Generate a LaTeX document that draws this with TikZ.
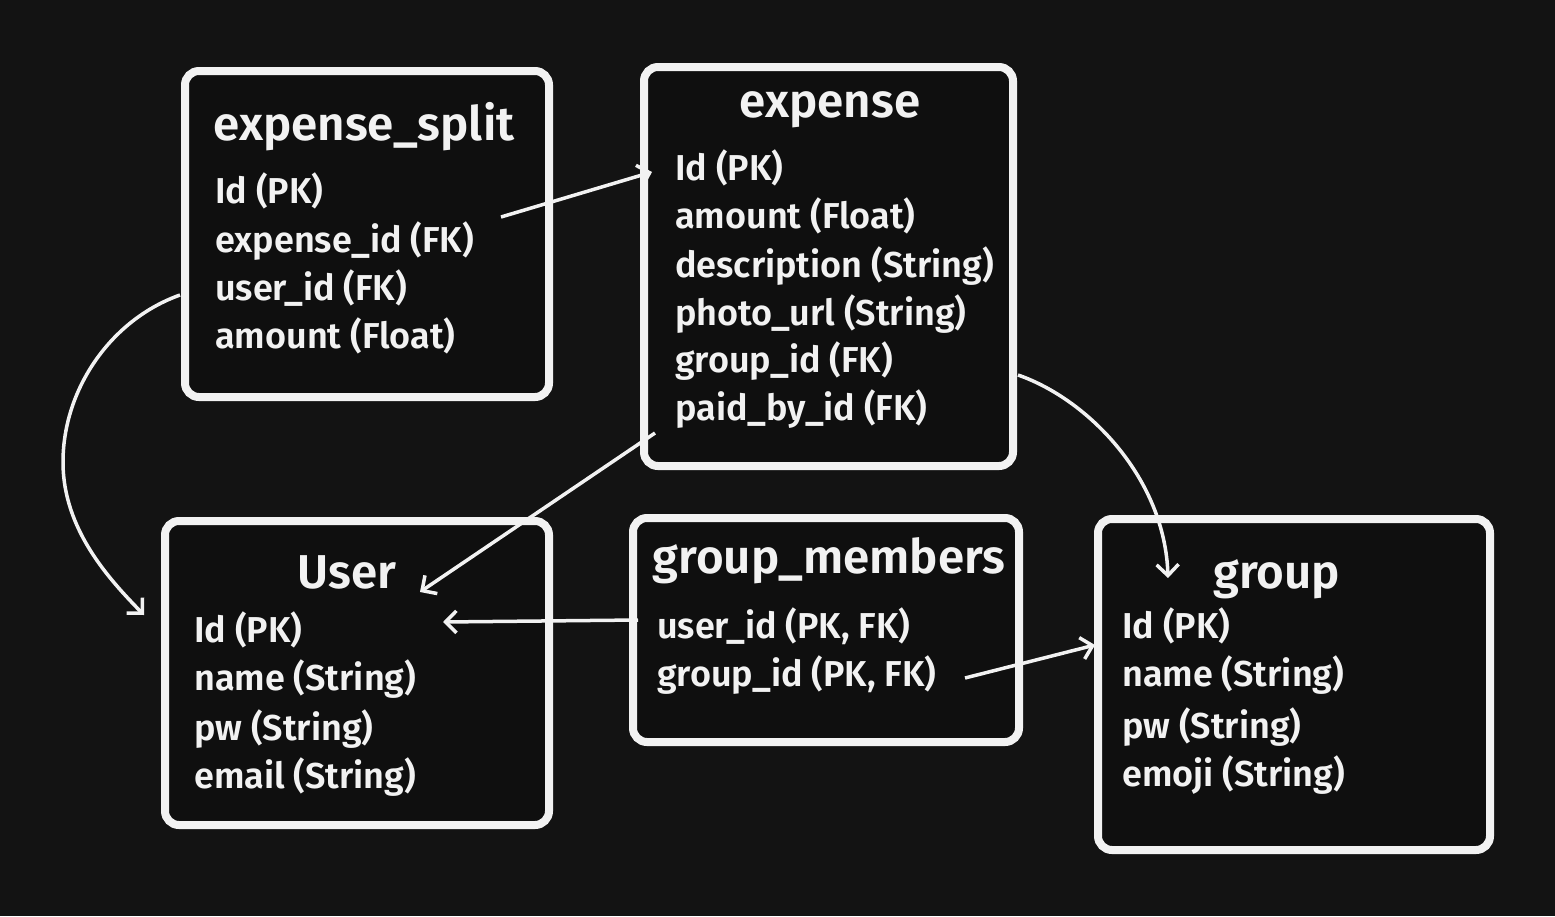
\documentclass[tikz,border=0pt]{standalone}
\usepackage{fontspec}
\setmainfont{Fira Sans SemiBold}
\usetikzlibrary{arrows.meta}
\definecolor{bg}{HTML}{131313}
\definecolor{inbg}{HTML}{0F0F0F}
\definecolor{fg}{HTML}{F2F2F2}
\begin{document}
\begin{tikzpicture}[x=1pt,y=-1pt,
  box/.style={draw=fg, line width=8pt, rounded corners=14pt, fill=inbg, inner sep=0pt, outer sep=0pt},
  ttl/.style={text=fg, font=\fontsize{47.5}{47.5}\selectfont, anchor=base, inner sep=0pt},
  fld/.style={text=fg, font=\fontsize{36}{36}\selectfont, anchor=base west, inner sep=0pt},
  link/.style={draw=fg, line width=3.5pt, -{Straight Barb[length=11pt,width=22pt]}}]
\fill[bg] (0,0) rectangle (1555,916);
\useasboundingbox (0,0) rectangle (1555,916);

% boxes
\node[box, minimum width=364pt, minimum height=326pt] (es) at (367,234) {};
\node[box, minimum width=369pt, minimum height=399pt] (ex) at (828.5,266.5) {};
\node[box, minimum width=384pt, minimum height=304pt] (us) at (357,673) {};
\node[box, minimum width=386pt, minimum height=224pt] (gm) at (826,630) {};
\node[box, minimum width=392pt, minimum height=331pt] (gr) at (1294,684.5) {};

% expense_split
\node[ttl] (esT) at (364,140) {expense\_split};
\node[fld] (es1) at (215,203) {Id (PK)};
\node[fld] (es2) at (215,252) {expense\_id (FK)};
\node[fld] (es3) at (215,300) {user\_id (FK)};
\node[fld] (es4) at (215,348) {amount (Float)};

% expense
\node[ttl] (exT) at (830,117) {expense};
\node[fld] (ex1) at (675,180) {Id (PK)};
\node[fld] (ex2) at (675,228) {amount (Float)};
\node[fld] (ex3) at (675,277) {description (String)};
\node[fld] (ex4) at (675,325) {photo\_url (String)};
\node[fld] (ex5) at (675,372) {group\_id (FK)};
\node[fld] (ex6) at (675,420) {paid\_by\_id (FK)};

% User
\node[ttl] (usT) at (347,588) {User};
\node[fld] (us1) at (194,642) {Id (PK)};
\node[fld] (us2) at (194,690) {name (String)};
\node[fld] (us3) at (194,740) {pw (String)};
\node[fld] (us4) at (194,788) {email (String)};

% group_members
\node[ttl] (gmT) at (829,573) {group\_members};
\node[fld] (gm1) at (657,638) {user\_id (PK, FK)};
\node[fld] (gm2) at (657,686) {group\_id (PK, FK)};

% group
\node[ttl] (grT) at (1276.5,588) {group};
\node[fld] (gr1) at (1122,638) {Id (PK)};
\node[fld] (gr2) at (1122,686) {name (String)};
\node[fld] (gr3) at (1122,738) {pw (String)};
\node[fld] (gr4) at (1122,786) {emoji (String)};

% connector ends
\coordinate (a1s) at (501,217);  \coordinate (a1e) at (652,172);
\coordinate (a2s) at (180,295);  \coordinate (a2m) at (63,462); \coordinate (a2e) at (144,615);
\coordinate (a3s) at (655,433);  \coordinate (a3e) at (420,592);
\coordinate (a4s) at (638,620);  \coordinate (a4e) at (443,622);
\coordinate (a5s) at (965,678);  \coordinate (a5e) at (1095,645);
\coordinate (a6s) at (1018,375); \coordinate (a6e) at (1168,578);

\draw[link] (a1s) -- (a1e);
\draw[link] (a2s) .. controls (110,320) and (63,390) .. (a2m)
                  .. controls (63,530) and (110,580) .. (a2e);
\draw[link] (a3s) -- (a3e);
\draw[link] (a4s) -- (a4e);
\draw[link] (a5s) -- (a5e);
\draw[link] (a6s) .. controls (1090,400) and (1165,480) .. (a6e);
\end{tikzpicture}
\end{document}
